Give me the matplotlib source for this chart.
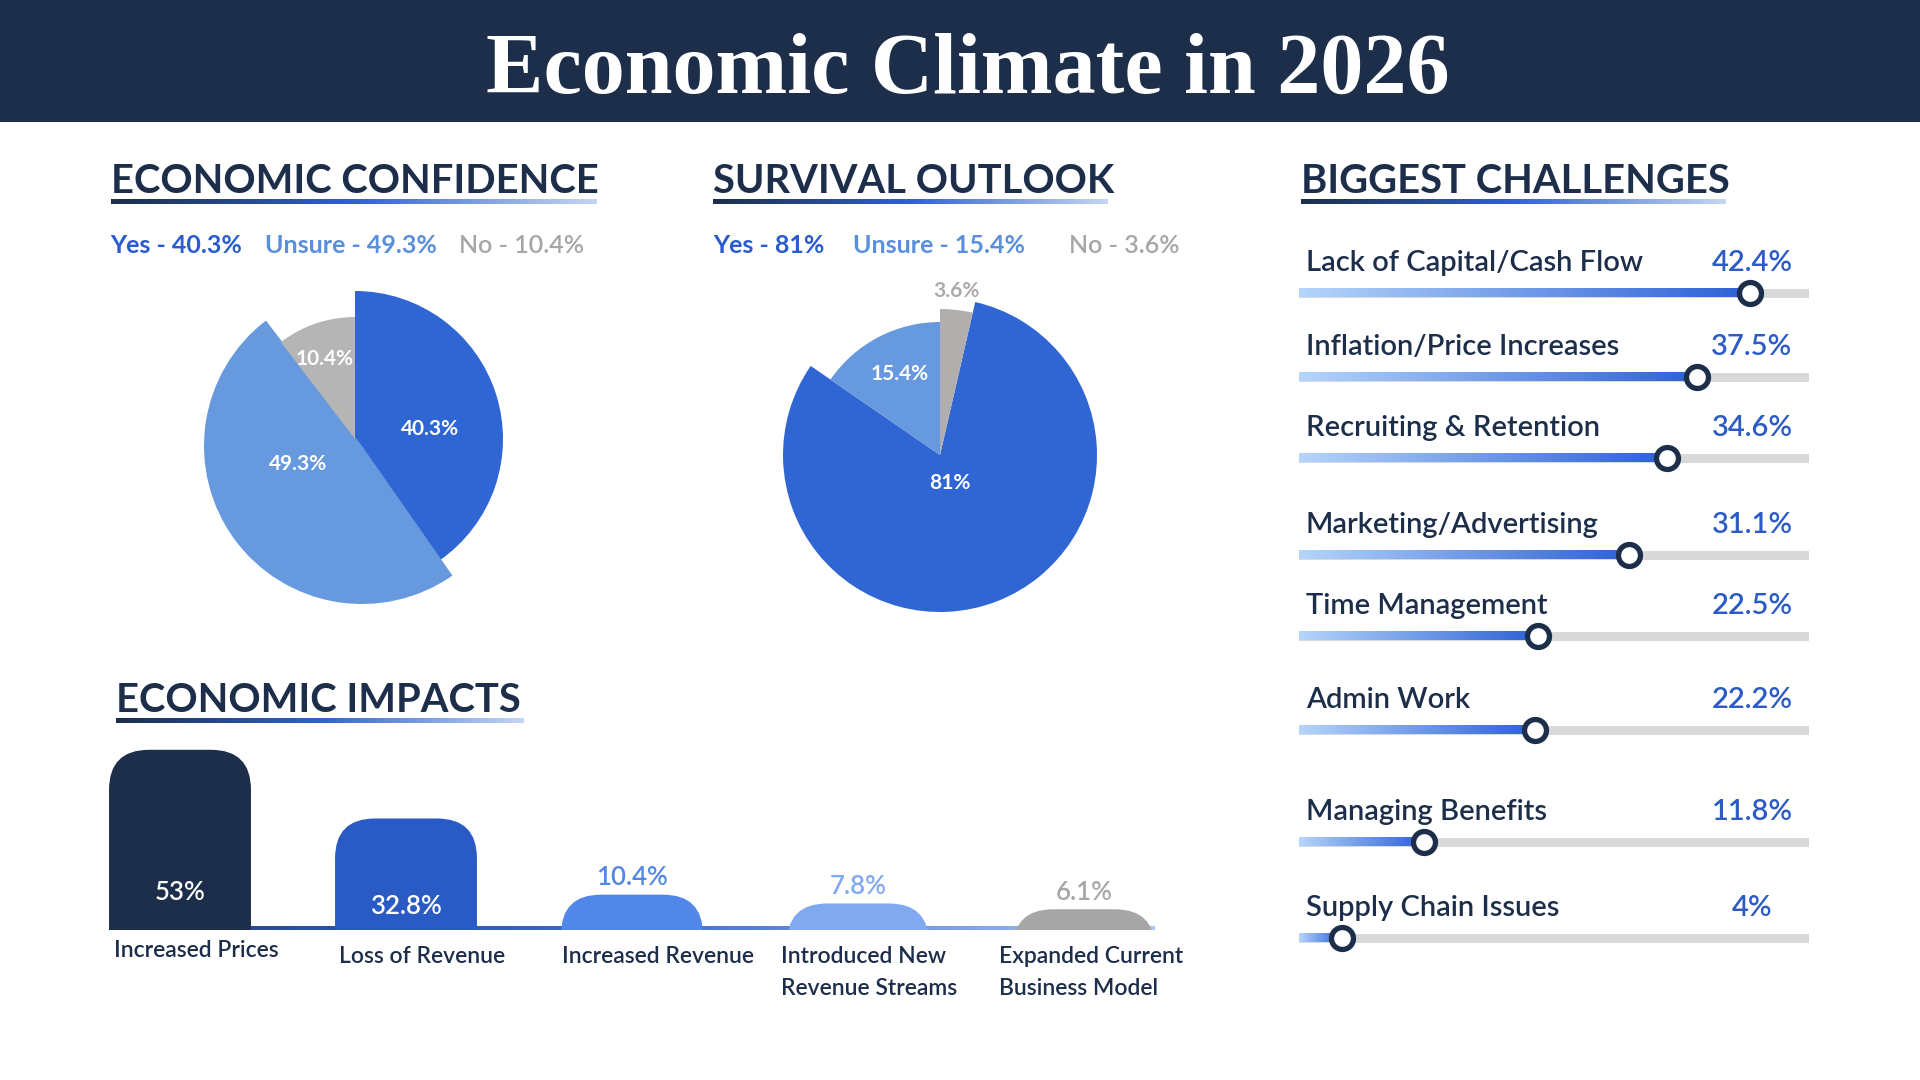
import numpy as np
import matplotlib
matplotlib.use("Agg")
import matplotlib.pyplot as plt
from matplotlib.colors import LinearSegmentedColormap
from matplotlib.patches import Rectangle, FancyBboxPatch

plt.rcParams['font.family'] = ['Lato', 'DejaVu Sans']

# ---- data ----
confidence_labels = ["Yes", "Unsure", "No"]
confidence_values = [40.3, 49.3, 10.4]

survival_labels = ["Yes", "Unsure", "No"]
survival_values = [81, 15.4, 3.6]

impact_labels = ["Increased Prices", "Loss of Revenue", "Increased Revenue",
                 "Introduced New\nRevenue Streams", "Expanded Current\nBusiness Model"]
impact_values = [53, 32.8, 10.4, 7.8, 6.1]

challenge_labels = ["Lack of Capital/Cash Flow", "Inflation/Price Increases",
                    "Recruiting & Retention", "Marketing/Advertising",
                    "Time Management", "Admin Work", "Managing Benefits",
                    "Supply Chain Issues"]
challenge_values = [42.4, 37.5, 34.6, 31.1, 22.5, 22.2, 11.8, 4]

# ---- styles ----
NAVY = "#1c2e4a"
BLUE = "#2f66d3"
LIGHT = "#6699dd"
GREY = "#b5b5b5"
VALUE_BLUE = "#2c5bc6"
pie_colors = [BLUE, LIGHT, GREY]
legend_colors = ["#2a5bd0", "#5a8fdb", "#a6a6a6"]
bar_colors = [NAVY, "#2a5bc4", "#5187e8", "#80a9ef", "#a6a6a6"]
MID = 600  # semibold text

head_cmap = LinearSegmentedColormap.from_list("head", [NAVY, "#2f62d0", "#c5d6f3"])
base_cmap = LinearSegmentedColormap.from_list("base", ["#23407e", "#3c6ad0", "#a8c4f0"])
fill_cmap = LinearSegmentedColormap.from_list("fill", ["#b5d5fb", "#2d60d5"])
grad = np.linspace(0, 1, 256).reshape(1, -1)

W, H = 1920, 1080
fig = plt.figure(figsize=(19.2, 10.8), dpi=100)
fig.patch.set_facecolor("white")

bg = fig.add_axes([0, 0, 1, 1])
bg.axis("off")


def px_axes(x0, y0, x1, y1):
    # axes from a pixel box measured from the top-left corner
    ax = fig.add_axes([x0 / W, 1 - y1 / H, (x1 - x0) / W, (y1 - y0) / H])
    ax.patch.set_alpha(0)
    return ax


# header band and title
bg.add_patch(Rectangle((0, 0), W, 122, color=NAVY, lw=0))
bg.text(968, 93, "Economic Climate in 2026", ha="center", va="baseline",
        fontsize=62, family=["Liberation Serif", "DejaVu Serif"],
        fontweight="bold", color="white")


def heading(x0, x1, y, text):
    bg.text(x0, y, text, ha="left", va="baseline", fontsize=28.7,
            fontweight="bold", color=NAVY)
    bg.imshow(grad, extent=(x0, x1, y + 11, y + 6), cmap=head_cmap, aspect="auto")


heading(111, 597, 193, "ECONOMIC CONFIDENCE")
heading(713, 1108, 193, "SURVIVAL OUTLOOK")
heading(1301, 1726, 193, "BIGGEST CHALLENGES")
heading(116, 524, 712, "ECONOMIC IMPACTS")


# legend lines above the pies
def legend_line(xs, labels, values):
    weights = ["bold", "bold", MID]
    for x, lab, v, c, w in zip(xs, labels, values, legend_colors, weights):
        bg.text(x, 253, f"{lab} - {v:g}%", ha="left", va="baseline",
                fontsize=18, color=c, fontweight=w)


legend_line([110, 265, 459], confidence_labels, confidence_values)
legend_line([713, 853, 1069], survival_labels, survival_values)


# pies: each slice has its own radius
def draw_pie(cx, cy, values, radii, start, offsets, text_colors, colors, shifts):
    ax = px_axes(cx - 220, cy - 220, cx + 220, cy + 220)
    wedges, _ = ax.pie(values, colors=colors, startangle=start,
                       counterclock=False, wedgeprops=dict(linewidth=0))
    for wdg, r, sh in zip(wedges, radii, shifts):
        wdg.set_radius(r)
        wdg.set_center(sh)
    for v, (dx, dy), tc in zip(values, offsets, text_colors):
        ax.text(dx, dy, f"{v:g}%", ha="center", va="center", fontsize=15,
                color=tc, fontweight="bold")
    ax.set_xlim(-220, 220)
    ax.set_ylim(-220, 220)
    ax.set_aspect("equal")
    ax.axis("off")


draw_pie(355, 439, confidence_values, [148, 158, 122], 90,
         [(75, 10), (-57, -25), (-30, 80)], ["white", "white", "white"],
         pie_colors, [(0, 0), (7, -7), (0, 0)])
draw_pie(940, 455, survival_values, [157, 133, 146],
         90 - 3.6 * survival_values[2],
         [(10, -28), (-40, 81), (16, 164)], ["white", "white", "#ababab"],
         [BLUE, LIGHT, "#b3aeae"], [(0, 0), (0, 0), (0, 0)])

# ---- economic impacts: bars with rounded tops ----
bg.imshow(grad, extent=(109, 1155, 930, 926), cmap=base_cmap, aspect="auto")

axb = px_axes(67, 726, 1197, 930)
axb.set_xlim(-0.5, 4.5)
axb.set_ylim(0, 60)
axb.axis("off")
px_per_x = 226.0
px_per_y = 3.4
bar_w = 0.628
radius_px = 40
for i, (v, c) in enumerate(zip(impact_values, bar_colors)):
    patch = FancyBboxPatch((i - bar_w / 2, -20), bar_w, v + 20,
                           boxstyle=f"round,pad=0,rounding_size={radius_px / px_per_x}",
                           mutation_aspect=px_per_x / px_per_y,
                           facecolor=c, edgecolor="none")
    axb.add_patch(patch)
    if v > 20:
        axb.text(i, 0.21 * v, f"{v:g}%", ha="center", va="center",
                 fontsize=18.5, color="white", fontweight=MID)
    else:
        axb.text(i, v + 17 / px_per_y, f"{v:g}%", ha="center", va="center",
                 fontsize=18.5, color=c, fontweight=MID)

label_shift = [5, 4, 1, -6, -14]
label_top = [957, 963, 963, 963, 963]
for i, lab in enumerate(impact_labels):
    x = 109 + i * px_per_x + label_shift[i]
    for j, line in enumerate(lab.split("\n")):
        bg.text(x, label_top[i] + j * 32, line, ha="left", va="baseline",
                fontsize=16.5, color=NAVY, fontweight=MID)

# ---- biggest challenges: slider rows ----
row_y = [293, 377, 458, 555, 636, 730, 842, 938]
track_max = 48

axc = px_axes(1299, 250, 1809, 980)
axc.barh(row_y, track_max, height=9, left=0, color="#d9d9d9", lw=0)
for v, y in zip(challenge_values, row_y):
    axc.imshow(grad, extent=(0, v, y + 4.5, y - 4.5), cmap=fill_cmap,
               aspect="auto", zorder=3)
axc.scatter(challenge_values, row_y, s=250, facecolor="white",
            edgecolor=NAVY, linewidths=3.8, zorder=5, clip_on=False)
axc.set_xlim(0, track_max)
axc.set_ylim(980, 250)
axc.axis("off")

for lab, v, y in zip(challenge_labels, challenge_values, row_y):
    bg.text(1306, y - 22, lab, ha="left", va="baseline", fontsize=21,
            color=NAVY, fontweight=MID)
    bg.text(1752, y - 22, f"{v:g}%", ha="center", va="baseline", fontsize=21,
            color=VALUE_BLUE, fontweight=MID)

bg.set_xlim(0, W)
bg.set_ylim(H, 0)

fig.savefig("out.png", dpi=100, facecolor="white")
